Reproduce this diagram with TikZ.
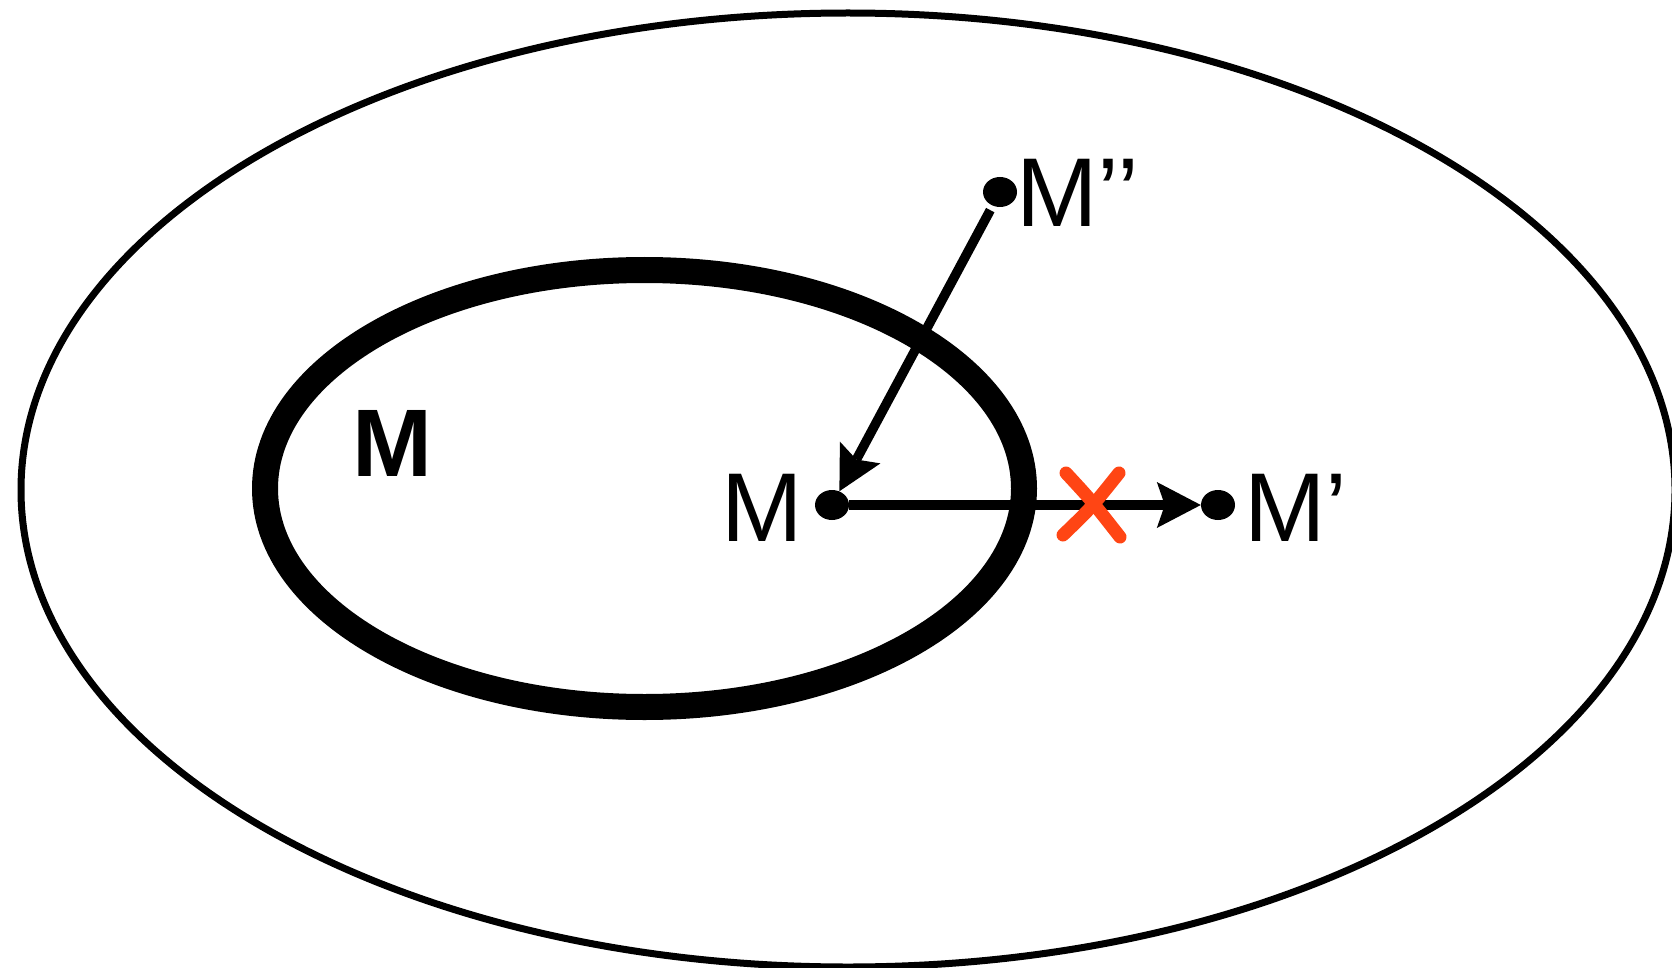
\documentclass[tikz,border=0pt]{standalone}
\usepackage{fontspec}
\newfontfamily\labfont{Liberation Sans}
\usetikzlibrary{arrows.meta,shapes.geometric}
\definecolor{xred}{RGB}{255,69,20}
\begin{document}
\begin{tikzpicture}[x=1pt,y=-1pt,
  dotnode/.style={ellipse,fill=black,inner sep=0pt,minimum width=34pt,minimum height=30pt},
  lab/.style={inner sep=0pt,font=\labfont\fontsize{97.8}{100}\selectfont},
  arr/.style={line width=9.5pt,-{Stealth[length=44pt,width=46pt,inset=8pt,line width=0pt]}},
  xmark/.style={xred,line width=13pt,line cap=round}]
\useasboundingbox (0,0) rectangle (1672,968);
\fill[white] (0,0) rectangle (1672,968);
% outer set
\draw[line width=7pt] (848,490) ellipse [x radius=827, y radius=477];
% inner set M
\draw[line width=26pt] (644.5,488.5) ellipse [x radius=379.5, y radius=218.5];
% points
\node[dotnode] (dM) at (832,505) {};
\node[dotnode] (dMp) at (1218,505) {};
\node[dotnode] (dMpp) at (1000,192) {};
% labels
\node[lab,anchor=base] (lM) at (762,541) {M};
\node[lab,anchor=base west] (lMp) at (1244,541) {M’};
\node[lab,anchor=base west] (lMpp) at (1016,227) {M’’};
\node[lab,anchor=base,font=\labfont\bfseries\fontsize{96}{100}\selectfont] (lSet) at (392,476) {M};
% arrows
\draw[arr] (dM) -- (dMp);
\draw[arr,shorten <=5pt] (dMpp) -- (dM);
% red cross
\draw[xmark] (1066,473) .. controls (1091,500) .. (1120,537);
\draw[xmark] (1119,473) .. controls (1091,508) .. (1063,535);
\end{tikzpicture}
\end{document}
